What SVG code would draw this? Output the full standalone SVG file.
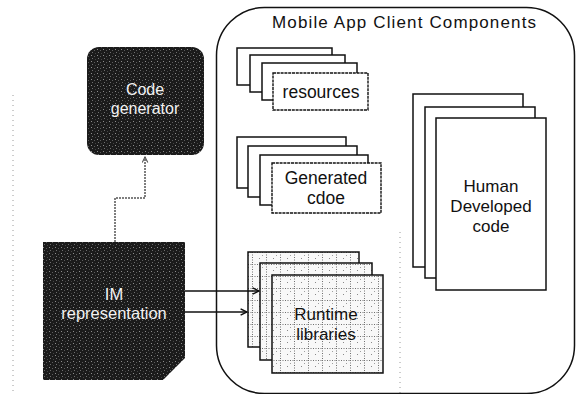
<svg xmlns="http://www.w3.org/2000/svg" width="577" height="394" viewBox="0 0 577 394">
  <style>
    .card { fill: #ffffff; stroke: #111111; stroke-width: 1.5; }
    .card-dot { fill: #ffffff; stroke: #111111; stroke-width: 1.4; stroke-dasharray: 3 0.8; }
    .lib { fill: url(#gridFill); stroke: #111111; stroke-width: 1.5; }
    .dark { fill: url(#grain); }
    .lbl { font-family: "Liberation Sans", Arial, sans-serif; fill: #111111; text-anchor: middle; }
    .lbl-w { font-family: "Liberation Sans", Arial, sans-serif; fill: #f2f2f2; text-anchor: middle; }
    .edge { fill: none; stroke: #111111; stroke-width: 1.5; }
    .edge-dot { fill: none; stroke: #555555; stroke-width: 1.5; stroke-dasharray: 2 1; }
    .noise { fill: none; stroke: #9a9a9a; stroke-width: 1; stroke-dasharray: 1 4; }
  </style>
  <defs>
    <!-- stippled dark fill for the processing blocks -->
    <pattern id="grain" width="6" height="6" patternUnits="userSpaceOnUse">
      <rect width="6" height="6" fill="#1b1b1b"/>
      <rect x="1" y="1" width="1" height="1" fill="#8c8c8c"/>
      <rect x="4" y="2" width="1" height="1" fill="#5c5c5c"/>
      <rect x="2" y="4" width="1" height="1" fill="#6e6e6e"/>
      <rect x="5" y="5" width="1" height="1" fill="#444444"/>
    </pattern>
    <!-- dotted grid fill for the library sheets -->
    <pattern id="gridFill" width="14" height="12" patternUnits="userSpaceOnUse">
      <rect width="14" height="12" fill="#f8f8f8"/>
      <path d="M0.5 0 V12 M0 0.5 H14" stroke="#6f6f6f" stroke-width="1" stroke-dasharray="1 1.5"/>
      <rect x="7" y="6" width="1" height="1" fill="#8a8a8a"/>
      <rect x="10" y="3" width="1" height="1" fill="#a0a0a0"/>
    </pattern>
    <marker id="open" viewBox="0 0 10 10" refX="9" refY="5" markerWidth="8" markerHeight="8" markerUnits="userSpaceOnUse" orient="auto">
      <path d="M1 1 L9 5 L1 9" fill="none" stroke="#111111" stroke-width="1.8"/>
    </marker>
    <marker id="openSmall" viewBox="0 0 10 10" refX="9" refY="5" markerWidth="7" markerHeight="7" markerUnits="userSpaceOnUse" orient="auto">
      <path d="M1 1 L9 5 L1 9" fill="none" stroke="#555555" stroke-width="1.6"/>
    </marker>
  </defs>

  <rect width="577" height="394" fill="#ffffff"/>

  <!-- faint dotted guide lines -->
  <path class="noise" d="M13 95 V394"/>
  <path class="noise" d="M400 232 V394"/>

  <!-- container for the client-side components -->
  <g id="mobile-app-client">
    <rect x="216.5" y="7.5" width="358" height="386" rx="48" ry="48" fill="none" stroke="#111111" stroke-width="1.5"/>
    <text class="lbl" x="404" y="28" font-size="17" textLength="264" lengthAdjust="spacing">Mobile App Client Components</text>
  </g>

  <g id="code-generator">
    <rect class="dark" x="87" y="47" width="117" height="108" rx="12" ry="12"/>
    <text class="lbl-w" x="145" y="95" font-size="16">Code</text>
    <text class="lbl-w" x="145" y="113.5" font-size="16">generator</text>
  </g>

  <g id="im-representation">
    <path class="dark" d="M43 242 H185 V358 L163 380 H43 Z"/>
    <text class="lbl-w" x="114" y="300" font-size="16.5">IM</text>
    <text class="lbl-w" x="114" y="319" font-size="16.5">representation</text>
  </g>

  <g id="resources">
    <rect class="card" x="237" y="48" width="95" height="37"/>
    <rect class="card" x="250" y="55" width="95" height="37"/>
    <rect class="card" x="262" y="63" width="95" height="37"/>
    <rect class="card-dot" x="273" y="73" width="95" height="37"/>
    <text class="lbl" x="321" y="98" font-size="17.5">resources</text>
  </g>

  <g id="generated-code">
    <rect class="card" x="237" y="137" width="109" height="51"/>
    <rect class="card" x="248" y="146" width="109" height="51"/>
    <rect class="card" x="260" y="155" width="108" height="50"/>
    <rect class="card-dot" x="272" y="163" width="109" height="50"/>
    <text class="lbl" x="326" y="184" font-size="17.5">Generated</text>
    <text class="lbl" x="326" y="204" font-size="17.5">cdoe</text>
  </g>

  <g id="runtime-libraries">
    <rect class="lib" x="248" y="252" width="111" height="95"/>
    <rect class="lib" x="260" y="263" width="112" height="97"/>
    <rect class="lib" x="272" y="275" width="111" height="98"/>
    <text class="lbl" x="326" y="320" font-size="17">Runtime</text>
    <text class="lbl" x="326" y="340" font-size="17">libraries</text>
  </g>

  <g id="human-developed-code">
    <rect class="card" x="413" y="94" width="110" height="173"/>
    <rect class="card" x="425" y="107" width="110" height="171"/>
    <rect class="card" x="436" y="118" width="110" height="172"/>
    <text class="lbl" x="491" y="192" font-size="17">Human</text>
    <text class="lbl" x="491" y="212" font-size="17">Developed</text>
    <text class="lbl" x="491" y="232" font-size="17">code</text>
  </g>

  <g id="connectors">
    <path class="edge-dot" d="M115 242 V198 H145 V157" marker-end="url(#openSmall)"/>
    <path class="edge" d="M185 291 H259" marker-end="url(#open)"/>
    <path class="edge" d="M185 312 H247" marker-end="url(#open)"/>
  </g>
</svg>
